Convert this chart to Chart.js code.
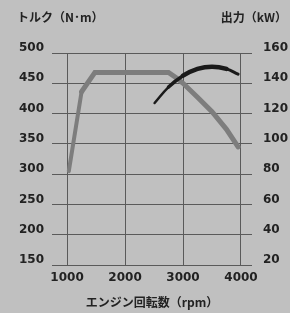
<!DOCTYPE html>
<html>
<head>
<meta charset="utf-8">
<script src="https://cdn.jsdelivr.net/npm/chart.js@4"></script>
<style>
  html, body { margin: 0; padding: 0; background: #c0c0c0; }
  #chartContainer { width: 290px; height: 313px; }
</style>
</head>
<body>
<div id="chartContainer"><canvas id="myChart"></canvas></div>
<script>
var rpmTicks = [1000, 2000, 3000, 4000];
var torqueRpm = [1030, 1250, 1480, 2750, 2900, 3000, 3250, 3500, 3750, 3950];
var torqueNm = [305, 436, 468, 468, 458, 450, 427, 403, 374, 345];
var powerRpm = [2510, 2750, 3000, 3250, 3500, 3750, 3950];
var powerKw = [127, 137.5, 145, 149.5, 151, 149.5, 146];

function toPoints(xs, ys) {
    return xs.map(function (x, i) { return { x: x, y: ys[i] }; });
}

var labelFont = { family: "'DejaVu Sans'", weight: 'bold', size: 12 };
var jpFont = { family: "'Noto Sans CJK JP'", weight: 'bold', size: 12 };

// background + the two unit labels above the axes
var chartDecor = {
    id: 'chartDecor',
    beforeDraw: function (chart) {
        var c = chart.ctx;
        c.save();
        c.fillStyle = '#c0c0c0';
        c.fillRect(0, 0, chart.width, chart.height);
        c.restore();
    },
    afterDraw: function (chart) {
        var c = chart.ctx;
        c.save();
        c.font = "bold 12px 'Noto Sans CJK JP'";
        c.fillStyle = '#222';
        c.textBaseline = 'middle';
        c.textAlign = 'left';
        c.fillText('トルク（N･m）', 17, 17);
        c.textAlign = 'right';
        c.fillText('出力（kW）', 287, 17);
        c.restore();
    }
};

var ctx = document.getElementById('myChart').getContext('2d');
var chart = new Chart(ctx, {
    type: 'line',
    data: {
        datasets: [{
            label: '出力',
            data: toPoints(powerRpm, powerKw),
            yAxisID: 'yPower',
            borderColor: '#1a1a1a',
            borderWidth: 4.5,
            borderCapStyle: 'round',
            tension: 0.4,
            pointRadius: 0,
            segment: {
                borderWidth: function (s) {
                    if (s.p0DataIndex === 0) return 2.5;
                    if (s.p0DataIndex === 1) return 3.5;
                    if (s.p0DataIndex === 5) return 3;
                    return 4.5;
                }
            }
        }, {
            label: 'トルク',
            data: toPoints(torqueRpm, torqueNm),
            yAxisID: 'yTorque',
            borderColor: '#7d7d7d',
            borderWidth: 5,
            borderCapStyle: 'round',
            borderJoinStyle: 'miter',
            tension: 0,
            pointRadius: 0,
            segment: {
                borderWidth: function (s) { return s.p0DataIndex === 0 ? 4 : 5; }
            }
        }]
    },
    options: {
        responsive: true,
        maintainAspectRatio: false,
        animation: false,
        layout: { padding: { top: 53 } },
        plugins: { legend: { display: false }, tooltip: { enabled: false } },
        scales: {
            x: {
                type: 'linear',
                min: 740,
                max: 4190,
                afterBuildTicks: function (s) {
                    s.ticks = rpmTicks.map(function (v) { return { value: v }; });
                },
                afterFit: function (s) { s.height = 48; },
                grid: { color: '#5a5a5a', lineWidth: 1, drawTicks: false },
                border: { display: false },
                ticks: {
                    padding: 6, color: '#222', font: labelFont, maxRotation: 0, autoSkip: false,
                    callback: function (v) { return String(v); }
                },
                title: {
                    display: true,
                    text: 'エンジン回転数（rpm）',
                    color: '#222',
                    font: jpFont,
                    padding: { top: 2, bottom: 3 }
                }
            },
            yTorque: {
                position: 'left',
                min: 150,
                max: 500,
                afterFit: function (s) { s.width = 52; },
                grid: { color: '#5a5a5a', lineWidth: 1, drawTicks: false },
                border: { display: false },
                ticks: { stepSize: 50, padding: 8, labelOffset: -5, color: '#222', font: labelFont }
            },
            yPower: {
                position: 'right',
                min: 20,
                max: 160,
                afterFit: function (s) { s.width = 38; },
                grid: { display: false, drawTicks: false },
                border: { display: false },
                ticks: { stepSize: 20, padding: 11, labelOffset: -5, color: '#222', font: labelFont }
            }
        }
    },
    plugins: [chartDecor]
});
</script>
</body>
</html>
